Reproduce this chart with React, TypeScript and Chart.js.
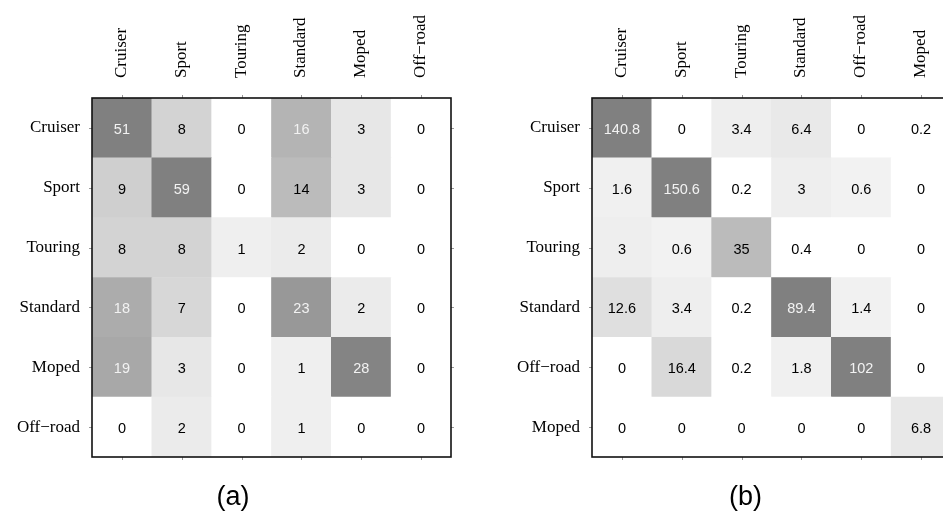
import React, { useEffect, useRef } from "react";
import { Chart, registerables } from "chart.js";

Chart.register(...registerables);

// ---------- data ----------
const classesA = ["Cruiser", "Sport", "Touring", "Standard", "Moped", "Off\u2212road"];
const rowA1 = [51, 8, 0, 16, 3, 0];
const rowA2 = [9, 59, 0, 14, 3, 0];
const rowA3 = [8, 8, 1, 2, 0, 0];
const rowA4 = [18, 7, 0, 23, 2, 0];
const rowA5 = [19, 3, 0, 1, 28, 0];
const rowA6 = [0, 2, 0, 1, 0, 0];
const matrixA = [rowA1, rowA2, rowA3, rowA4, rowA5, rowA6];
const colorMaxA = 29;

const classesB = ["Cruiser", "Sport", "Touring", "Standard", "Off\u2212road", "Moped"];
const rowB1 = [140.8, 0, 3.4, 6.4, 0, 0.2];
const rowB2 = [1.6, 150.6, 0.2, 3, 0.6, 0];
const rowB3 = [3, 0.6, 35, 0.4, 0, 0];
const rowB4 = [12.6, 3.4, 0.2, 89.4, 1.4, 0];
const rowB5 = [0, 16.4, 0.2, 1.8, 102, 0];
const rowB6 = [0, 0, 0, 0, 0, 6.8];
const matrixB = [rowB1, rowB2, rowB3, rowB4, rowB5, rowB6];
const colorMaxB = 72;

const captionA = "(a)";
const captionB = "(b)";

// ---------- helpers ----------
const SERIF = "'Liberation Serif', 'Times New Roman', serif";
const SANS = "'Liberation Sans', Arial, sans-serif";

function shade(v: number, cmax: number): number {
  if (Math.round(v) === 0) return 0;
  return Math.min(127, 12 + (115 * v) / cmax);
}
function cellColor(v: number, cmax: number): string {
  const g = Math.round(255 - shade(v, cmax));
  return `rgb(${g},${g},${g})`;
}

function buildConfig(classes: string[], matrix: number[][], cmax: number, pad: any, yWidth: number, xHeight: number): any {
  const data: any[] = [];
  const colors: string[] = [];
  const texts: string[] = [];
  const textColors: string[] = [];
  matrix.forEach((row, r) => {
    row.forEach((v, c) => {
      data.push({ x: classes[c], y: [r - 0.5, r + 0.5] });
      colors.push(cellColor(v, cmax));
      texts.push(String(v));
      textColors.push(shade(v, cmax) > 70 ? "#f2f2f2" : "#000000");
    });
  });

  const cellPlugin = {
    id: "cellText",
    afterDatasetsDraw(chart: any) {
      const ctx = chart.ctx;
      const meta = chart.getDatasetMeta(0);
      ctx.save();
      ctx.font = `14.5px ${SANS}`;
      ctx.textAlign = "center";
      ctx.textBaseline = "middle";
      meta.data.forEach((el: any, i: number) => {
        const cy = (el.y + el.base) / 2;
        ctx.fillStyle = textColors[i];
        ctx.fillText(texts[i], el.x, cy + 2);
      });
      ctx.restore();
    },
    afterDraw(chart: any) {
      const ctx = chart.ctx;
      const a = chart.chartArea;
      const xs = chart.scales.x;
      const ys = chart.scales.y;
      ctx.save();
      // column labels (rotated, reading upward)
      ctx.font = `17px ${SERIF}`;
      ctx.fillStyle = "#000";
      ctx.textAlign = "left";
      ctx.textBaseline = "middle";
      xs.getLabels().forEach((lab: string, i: number) => {
        const px = xs.getPixelForValue(i);
        ctx.save();
        ctx.translate(px - 0.5, a.top - 20);
        ctx.rotate(-Math.PI / 2);
        ctx.fillText(lab, 0, 0);
        ctx.restore();
      });
      // tick marks
      ctx.strokeStyle = "#999999";
      ctx.lineWidth = 1;
      const tl = 3;
      classes.forEach((_, i) => {
        const px = Math.round(xs.getPixelForValue(i)) + 0.5;
        ctx.beginPath();
        ctx.moveTo(px, a.top - tl);
        ctx.lineTo(px, a.top);
        ctx.moveTo(px, a.bottom);
        ctx.lineTo(px, a.bottom + tl);
        ctx.stroke();
        const py = Math.round(ys.getPixelForValue(i)) + 0.5;
        ctx.beginPath();
        ctx.moveTo(a.left - tl, py);
        ctx.lineTo(a.left, py);
        ctx.moveTo(a.right, py);
        ctx.lineTo(a.right + tl, py);
        ctx.stroke();
      });
      ctx.strokeStyle = "#111111";
      ctx.lineWidth = 1.6;
      ctx.strokeRect(a.left, a.top, a.right - a.left, a.bottom - a.top);
      ctx.restore();
    },
  };

  return {
    type: "bar",
    data: {
      labels: classes,
      datasets: [
        {
          data,
          backgroundColor: colors,
          borderWidth: 0,
          barPercentage: 1,
          categoryPercentage: 1,
        },
      ],
    },
    options: {
      responsive: false,
      animation: false,
      events: [],
      layout: { padding: pad },
      plugins: { legend: { display: false }, tooltip: { enabled: false }, title: { display: false } },
      scales: {
        x: {
          type: "category",
          position: "top",
          offset: true,
          grid: { display: false, drawTicks: false },
          border: { display: false },
          ticks: { display: false },
          afterFit(scale: any) {
            scale.height = xHeight;
          },
        },
        y: {
          type: "linear",
          reverse: true,
          min: -0.5,
          max: 5.5,
          grid: { display: false, drawTicks: false },
          border: { display: false },
          afterBuildTicks(scale: any) {
            scale.ticks = classes.map((_, i) => ({ value: i }));
          },
          ticks: {
            autoSkip: false,
            padding: 12,
            color: "#000",
            font: { family: SERIF, size: 17 },
            callback: (v: any) => (Number.isInteger(v) && v >= 0 && v < classes.length ? classes[v] : ""),
          },
          afterFit(scale: any) {
            scale.width = yWidth;
          },
        },
      },
    },
    plugins: [cellPlugin],
  };
}

function Panel(props: { left: number; width: number; classes: string[]; matrix: number[][]; cmax: number; pad: any; yWidth: number }) {
  const ref = useRef<HTMLCanvasElement>(null);
  useEffect(() => {
    if (!ref.current) return;
    const chart = new Chart(ref.current, buildConfig(props.classes, props.matrix, props.cmax, props.pad, props.yWidth, 98) as any);
    return () => chart.destroy();
  }, []);
  return (
    <canvas
      ref={ref}
      width={props.width}
      height={515}
      style={{ position: "absolute", left: props.left, top: 0, width: props.width, height: 515 }}
    />
  );
}

export default function App() {
  const capStyle: any = {
    position: "absolute",
    width: 100,
    textAlign: "center",
    top: 481,
    height: 30,
    lineHeight: "30px",
    fontFamily: SANS,
    fontSize: 27,
    color: "#000",
  };
  return (
    <div style={{ position: "fixed", left: 0, top: 0, width: 943, height: 515, overflow: "hidden", background: "#fff" }}>
      <Panel left={0} width={470} classes={classesA} matrix={matrixA} cmax={colorMaxA} pad={{ left: 0, top: 0, right: 19, bottom: 58 }} yWidth={92} />
      <Panel left={470} width={500} classes={classesB} matrix={matrixB} cmax={colorMaxB} pad={{ left: 0, top: 0, right: 19, bottom: 58 }} yWidth={122} />
      <div style={{ ...capStyle, left: 233 - 50 }}>{captionA}</div>
      <div style={{ ...capStyle, left: 745.5 - 50 }}>{captionB}</div>
    </div>
  );
}
